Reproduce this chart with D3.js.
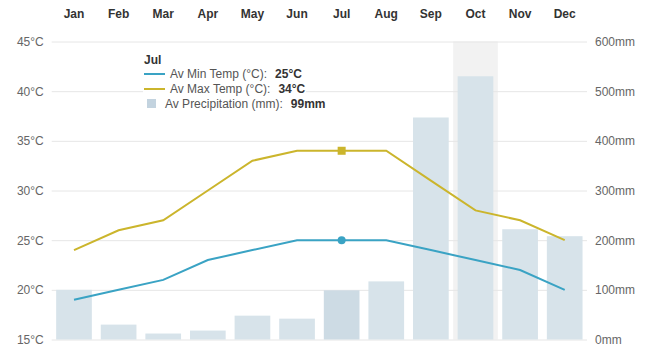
<!DOCTYPE html>
<html>
<head>
<meta charset="utf-8">
<script src="https://cdn.jsdelivr.net/npm/d3@7"></script>
<style>
  html, body { margin: 0; padding: 0; background: #fff; }
  svg { display: block; font-family: "Liberation Sans", Arial, sans-serif; }
</style>
</head>
<body>
<svg id="chart" width="650" height="355"></svg>
<script>
const months = ["Jan","Feb","Mar","Apr","May","Jun","Jul","Aug","Sep","Oct","Nov","Dec"];
const minTemp = [19, 20, 21, 23, 24, 25, 25, 25, 24, 23, 22, 20];
const maxTemp = [24, 26, 27, 30, 33, 34, 34, 34, 31, 28, 27, 25];
const precip  = [100, 30, 12, 18, 48, 42, 99, 117, 447, 530, 222, 208];
const tempTicks = [15, 20, 25, 30, 35, 40, 45];
const precipTicks = [0, 100, 200, 300, 400, 500, 600];
const selectedMonth = "Jul";
const hoverMonth = "Oct";

(function () {
const svg = d3.select("#chart");
const pLeft = 51.7, pRight = 587, pTop = 41.5, pBottom = 339.5;

const x = d3.scaleBand().domain(months).range([pLeft, pRight]).paddingInner(0.2).paddingOuter(0.1);
const yT = d3.scaleLinear().domain([15, 45]).range([pBottom, pTop]);
const yP = d3.scaleLinear().domain([0, 600]).range([pBottom, pTop]);
const step = x.step();

// hover band
svg.append("rect")
  .attr("x", x(hoverMonth) - step * 0.1)
  .attr("y", pTop)
  .attr("width", step)
  .attr("height", pBottom - pTop)
  .attr("fill", "#f2f2f2");

// left axis with gridlines
const gL = svg.append("g").attr("transform", `translate(${pLeft},0)`)
  .call(d3.axisLeft(yT).tickValues(tempTicks).tickSize(-(pRight - pLeft)).tickPadding(8).tickFormat(d => d + "°C"));
gL.select(".domain").remove();
gL.selectAll(".tick line").attr("stroke", "#e6e6e6");
gL.selectAll(".tick text").attr("fill", "#666").attr("font-size", 12);

// right axis
const gR = svg.append("g").attr("transform", `translate(${pRight},0)`)
  .call(d3.axisRight(yP).tickValues(precipTicks).tickSize(0).tickPadding(8).tickFormat(d => d + "mm"));
gR.select(".domain").remove();
gR.selectAll(".tick text").attr("fill", "#666").attr("font-size", 12);

// top month axis
const gT = svg.append("g").attr("transform", `translate(0,18)`)
  .call(d3.axisTop(x).tickSize(0).tickPadding(0));
gT.select(".domain").remove();
gT.selectAll(".tick text").attr("fill", "#333").attr("font-size", 12).attr("font-weight", "bold");

// bars
svg.append("g").selectAll("rect").data(months).join("rect")
  .attr("x", d => x(d))
  .attr("width", x.bandwidth())
  .attr("y", (d, i) => yP(precip[i]))
  .attr("height", (d, i) => pBottom - yP(precip[i]))
  .attr("fill", d => d === selectedMonth ? "#cddbe4" : "#d7e3ea");

const cx = d => x(d) + x.bandwidth() / 2;
const minColor = "#3aa3c4", maxColor = "#cbb52c";

const line = (arr) => d3.line().x((d, i) => cx(months[i])).y(d => yT(d))(arr);
svg.append("path").attr("d", line(minTemp)).attr("fill", "none").attr("stroke", minColor).attr("stroke-width", 2);
svg.append("path").attr("d", line(maxTemp)).attr("fill", "none").attr("stroke", maxColor).attr("stroke-width", 2);

const si = months.indexOf(selectedMonth);
svg.append("circle").attr("cx", cx(selectedMonth)).attr("cy", yT(minTemp[si])).attr("r", 4).attr("fill", minColor);
svg.append("rect").attr("x", cx(selectedMonth) - 4).attr("y", yT(maxTemp[si]) - 4).attr("width", 8).attr("height", 8).attr("fill", maxColor);

// legend / tooltip
const lg = svg.append("g");
lg.append("rect").attr("x", 143).attr("y", 52).attr("width", 163).attr("height", 58).attr("fill", "#fff").attr("opacity", 0.95);
lg.append("text").attr("x", 144).attr("y", 64).attr("font-size", 12).attr("font-weight", "bold").attr("fill", "#333").text(selectedMonth);
const rows = [
  {label: "Av Min Temp (°C):", value: minTemp[si] + "°C", y: 78, type: "line", color: minColor},
  {label: "Av Max Temp (°C):", value: maxTemp[si] + "°C", y: 93, type: "line", color: maxColor},
  {label: "Av Precipitation (mm):", value: precip[si] + "mm", y: 108, type: "sq", color: "#c3d3df"}
];
rows.forEach(r => {
  if (r.type === "line") {
    lg.append("line").attr("x1", 144).attr("x2", 165).attr("y1", r.y - 4).attr("y2", r.y - 4).attr("stroke", r.color).attr("stroke-width", 2);
  } else {
    lg.append("rect").attr("x", 147).attr("y", r.y - 9).attr("width", 9).attr("height", 9).attr("fill", r.color);
  }
  const t = lg.append("text").attr("x", r.type === "line" ? 170 : 165).attr("y", r.y).attr("font-size", 12).attr("fill", "#555");
  t.append("tspan").text(r.label);
  t.append("tspan").attr("dx", 8).attr("font-weight", "bold").attr("fill", "#333").text(r.value);
});
})();
</script>
</body>
</html>
